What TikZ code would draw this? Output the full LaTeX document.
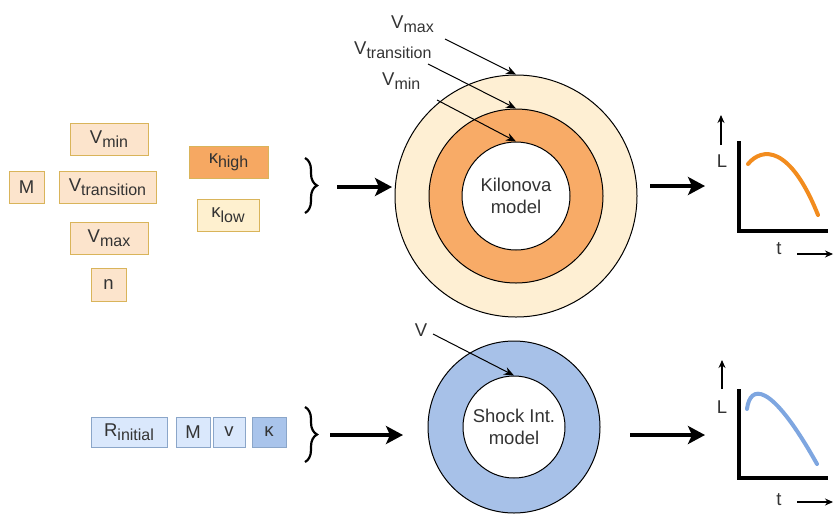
\documentclass[tikz,border=0pt]{standalone}
\usepackage{fontspec}
\setmainfont{Liberation Sans}
\usetikzlibrary{arrows.meta,decorations.pathreplacing}
\definecolor{ofill}{HTML}{FCE4CC}
\definecolor{oborder}{HTML}{D9B45A}
\definecolor{ohigh}{HTML}{F6A862}
\definecolor{olow}{HTML}{FEF0CF}
\definecolor{ringout}{HTML}{FEEFD3}
\definecolor{ringmid}{HTML}{F8AB67}
\definecolor{bfill}{HTML}{DAE8FC}
\definecolor{bdark}{HTML}{A9C4EB}
\definecolor{bborder}{HTML}{8BA6C9}
\definecolor{bring}{HTML}{A7C1E8}
\definecolor{ocurve}{HTML}{F28C1E}
\definecolor{bcurve}{HTML}{7EA6E0}
\definecolor{txt}{HTML}{333333}
\newcommand\sbs[1]{\raisebox{-0.45ex}{\fontsize{16}{17}\selectfont #1}}
\begin{document}
\begin{tikzpicture}[x=1pt,y=-1pt,
  font=\fontsize{18.5}{21}\selectfont, text=txt,
  obox/.style={draw=oborder, line width=1pt, fill=ofill, minimum height=32pt, inner sep=0pt},
  bbox/.style={draw=bborder, line width=1pt, fill=bfill, minimum height=30pt, inner sep=0pt},
  bigarrow/.style={line width=3.4pt, -{Stealth[length=17pt,width=18pt,inset=4pt]}},
  labarrow/.style={line width=1pt, -{Stealth[length=10pt,width=8pt]}},
  axis/.style={line width=4pt},
  smallarrow/.style={line width=1.1pt, -{Stealth[length=8pt,width=7pt]}},
  bracestyle/.style={decorate, decoration={brace, amplitude=12pt}, line width=2.2pt}
]
\useasboundingbox (0,0) rectangle (835,515);

% top-left parameter boxes
\node[obox, minimum width=78pt] (vmin) at (109,139) {V\sbs{min}};
\node[obox, minimum width=35pt] (m1) at (26.5,187) {M};
\node[obox, minimum width=97pt] (vtr) at (107.5,187) {V\sbs{transition}};
\node[obox, minimum width=78pt] (vmax) at (109,238) {V\sbs{max}};
\node[obox, minimum width=35pt, minimum height=33pt] (n) at (108.5,284.5) {n};
\node[obox, fill=ohigh, minimum width=79pt] (khigh) at (228.5,162) {κ\sbs{high}};
\node[obox, fill=olow, minimum width=62pt] (klow) at (228,215) {κ\sbs{low}};

% top brace and arrow
\coordinate (bt1) at (305,158);
\coordinate (bb1) at (305,213);
\draw[bracestyle] (bt1) -- (bb1);
\coordinate (a1s) at (337,187);
\coordinate (a1e) at (392,187);
\draw[bigarrow] (a1s) -- (a1e);

% kilonova rings
\node[circle, draw=black, line width=1pt, fill=ringout, minimum size=242pt, inner sep=0pt] (outer) at (516,196) {};
\node[circle, draw=black, line width=1pt, fill=ringmid, minimum size=174pt, inner sep=0pt] (mid) at (516,196) {};
\node[circle, draw=black, line width=1pt, fill=white, minimum size=108pt, inner sep=0pt, align=center] (inner) at (516,196) {Kilonova\\[1pt]model};

% velocity labels
\node[anchor=south west, inner sep=0pt] (lvmax) at (391,33) {V\sbs{max}};
\node[anchor=south west, inner sep=0pt] (lvtr) at (354,59) {V\sbs{transition}};
\node[anchor=south west, inner sep=0pt] (lvmin) at (382,90) {V\sbs{min}};
\coordinate (pvmax) at (445,39);
\coordinate (pvtr) at (428,64);
\coordinate (pvmin) at (437,100);
\draw[labarrow] (pvmax) -- (outer.north);
\draw[labarrow] (pvtr) -- (mid.north);
\draw[labarrow] (pvmin) -- (inner.north);

% arrow to top graph
\coordinate (a2s) at (650,186);
\coordinate (a2e) at (705,186);
\draw[bigarrow] (a2s) -- (a2e);

% top graph
\coordinate (g1o) at (739,231);
\coordinate (g1y) at (739,141);
\coordinate (g1x) at (828,231);
\draw[axis] (g1y) -- (g1o) -- (g1x);
\coordinate (l1s) at (721,145);
\coordinate (l1e) at (721,115);
\draw[smallarrow] (l1s) -- (l1e);
\node (L1) at (722,161) {L};
\node (t1) at (779,249) {t};
\coordinate (r1s) at (797,254);
\coordinate (r1e) at (833,254);
\draw[smallarrow] (r1s) -- (r1e);
\draw[ocurve, line width=4pt, line cap=round] (748,164) .. controls (762,147) and (790,145) .. (818,215);

% bottom parameter boxes
\node[bbox, minimum width=76pt] (rin) at (129,432) {R\sbs{initial}};
\node[bbox, minimum width=34pt] (m2) at (193,432) {M};
\node[bbox, minimum width=32pt] (v2) at (229,432) {v};
\node[bbox, fill=bdark, minimum width=34pt] (k2) at (269,432) {κ};

% bottom brace and arrow
\coordinate (bt2) at (305,407);
\coordinate (bb2) at (305,462);
\draw[bracestyle] (bt2) -- (bb2);
\coordinate (a3s) at (330,435);
\coordinate (a3e) at (403,435);
\draw[bigarrow] (a3s) -- (a3e);

% shock rings
\node[circle, draw=black, line width=1pt, fill=bring, minimum size=172pt, inner sep=0pt] (souter) at (514,427) {};
\node[circle, draw=black, line width=1pt, fill=white, minimum size=102pt, inner sep=0pt, align=center] (sinner) at (514,427) {Shock Int.\\[1pt]model};
\node[inner sep=0pt] (lv) at (421,330) {V};
\coordinate (pv) at (433,334);
\draw[labarrow] (pv) -- (sinner.north);

% arrow to bottom graph
\coordinate (a4s) at (630,435);
\coordinate (a4e) at (705,435);
\draw[bigarrow] (a4s) -- (a4e);

% bottom graph
\coordinate (g2o) at (739,478);
\coordinate (g2y) at (739,389);
\coordinate (g2x) at (828,478);
\draw[axis] (g2y) -- (g2o) -- (g2x);
\coordinate (l2s) at (722,389);
\coordinate (l2e) at (722,360);
\draw[smallarrow] (l2s) -- (l2e);
\node (L2) at (722,407) {L};
\node (t2) at (779,500) {t};
\coordinate (r2s) at (797,502);
\coordinate (r2e) at (833,502);
\draw[smallarrow] (r2s) -- (r2e);
\draw[bcurve, line width=4pt, line cap=round] (747,409) .. controls (750,385) and (770,380) .. (817,464);
\end{tikzpicture}
\end{document}
